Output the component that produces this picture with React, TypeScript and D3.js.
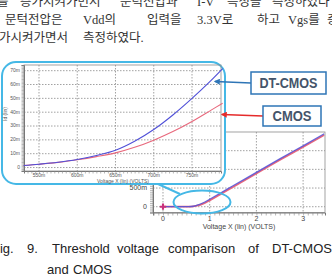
import React, { useRef, useEffect } from 'react';
import * as d3 from 'd3';

// close-up of the turn-on region (gate volts, drain amps)
const zoomVolts = [0.53, 0.55, 0.575, 0.6, 0.625, 0.65, 0.675, 0.7, 0.725, 0.75, 0.775, 0.79];
const zoomDtcmos = [0.0015, 0.0024, 0.0038, 0.0058, 0.0087, 0.0125, 0.019, 0.0275, 0.038, 0.05, 0.063, 0.0715];
const zoomCmos = [0.0015, 0.0024, 0.0037, 0.0056, 0.0079, 0.0106, 0.0146, 0.0198, 0.026, 0.0333, 0.0415, 0.0465];
const zoomXTicks = [0.55, 0.6, 0.65, 0.7, 0.75];
const zoomYTicks = [0, 0.01, 0.02, 0.03, 0.04, 0.05, 0.06, 0.07];

// full sweep
const sweepVolts = [0, 0.3, 0.55, 0.65, 0.75, 0.85, 1.0, 1.25, 1.5, 2.0, 2.5, 3.0, 3.45];
const sweepDtcmos = [0, 0, 0.002, 0.0125, 0.05, 0.1, 0.2, 0.38, 0.56, 0.92, 1.28, 1.63, 1.95];
const sweepCmos = [0, 0, 0.002, 0.0106, 0.033, 0.075, 0.17, 0.35, 0.53, 0.89, 1.25, 1.6, 1.92];
const sweepXTicks = [0, 1, 2, 3];
const sweepYTicks = [0, 0.5, 1, 1.5];

const BLUE = '#5050d8';
const RED = '#e8687c';
const CYAN = '#45b8e6';
const GRID = '#8a8a8a';

const SANS = "'Liberation Sans', Arial, sans-serif";
const KOREAN = "'Liberation Serif', 'Noto Sans CJK KR', serif";

const bodyLines = [
  { y: 6, words: [['를', -3], ['증가시켜가면서', 20], ['문턱전압과', 120], ['I-V', 197], ['특성을', 227], ['측정하였다', 272]] },
  { y: 24, words: [['문턱전압은', 5], ['Vdd의', 83], ['입력을', 147], ['3.3V로', 197], ['하고', 257], ['Vgs를', 288], ['증', 327]] },
  { y: 42, words: [['가시켜가면서', -1], ['측정하였다.', 83]] }
];

const captionLines = [
  { y: 253, words: [['Fig.', -8], ['9.', 27], ['Threshold', 52], ['voltage', 117], ['comparison', 168], ['of', 248], ['DT-CMOS', 272]] },
  { y: 274, words: [['and', 47], ['CMOS', 73]] }
];

const fmt = d3.format('~s');

export default function App() {
  const svgRef = useRef<SVGSVGElement>(null);

  useEffect(() => {
    if (svgRef.current) draw(svgRef.current);
  }, []);

  return (
    <div style={{ position: 'absolute', left: 0, top: 0 }}>
      <svg ref={svgRef} width={332} height={277} style={{ display: 'block', background: '#fff' }} />
    </div>
  );
}

const drawWords = (g: any, lines: any[]) => {
  lines.forEach((line) =>
    line.words.forEach(([w, x]: [string, number]) => {
      g.append('text').attr('x', x).attr('y', line.y).text(w);
    })
  );
};

const plot = (
  svg: any,
  x: d3.ScaleLinear<number, number>,
  y: d3.ScaleLinear<number, number>,
  opt: { xTicks: number[]; yTicks: number[]; xMinor: number[]; yMinor: number[]; tick: number }
) => {
  const [x0, x1] = x.range();
  const [y0, y1] = y.range();
  const g = svg.append('g');

  g.append('g')
    .selectAll('line')
    .data(opt.xTicks)
    .join('line')
    .attr('x1', (d: number) => x(d))
    .attr('x2', (d: number) => x(d))
    .attr('y1', y1)
    .attr('y2', y0)
    .attr('stroke', GRID)
    .attr('stroke-width', 0.8)
    .attr('stroke-dasharray', '1.5,1.5');

  g.append('g')
    .selectAll('line')
    .data(opt.yTicks)
    .join('line')
    .attr('x1', x0)
    .attr('x2', x1)
    .attr('y1', (d: number) => y(d))
    .attr('y2', (d: number) => y(d))
    .attr('stroke', GRID)
    .attr('stroke-width', 0.8)
    .attr('stroke-dasharray', '1.5,1.5');

  g.append('rect')
    .attr('x', x0)
    .attr('y', y1)
    .attr('width', x1 - x0)
    .attr('height', y0 - y1)
    .attr('fill', 'none')
    .attr('stroke', '#8c8c8c')
    .attr('stroke-width', 0.8);

  // ruler style axes
  const left = g
    .append('g')
    .attr('transform', `translate(${x0},0)`)
    .call(d3.axisLeft(y).tickValues(opt.yMinor).tickSize(opt.tick).tickFormat(() => ''));
  const bottom = g
    .append('g')
    .attr('transform', `translate(0,${y0})`)
    .call(d3.axisBottom(x).tickValues(opt.xMinor).tickSize(opt.tick).tickFormat(() => ''));
  [left, bottom].forEach((a) => {
    a.select('.domain').attr('stroke', '#777').attr('stroke-width', 1);
    a.selectAll('.tick line').attr('stroke', '#888').attr('stroke-width', 0.6);
  });
  return g;
};

const draw = (node: SVGSVGElement) => {
  const svg = d3.select(node);
  svg.selectAll('*').remove();

  const body = svg.append('g').attr('font-family', KOREAN).attr('font-size', 12.5).attr('fill', '#333');
  drawWords(body, bodyLines);

  // main chart
  const mx = d3.scaleLinear().domain([-0.214, 3.469]).range([153, 325]);
  const my = d3.scaleLinear().domain([-0.155, 2.0]).range([212.5, 132]);
  const main = plot(svg, mx, my, {
    xTicks: sweepXTicks,
    yTicks: sweepYTicks,
    xMinor: d3.range(-0.2, 3.46, 0.1),
    yMinor: d3.range(-0.15, 2.001, 0.05),
    tick: 3
  });

  const mainLine = (vals: number[]) =>
    d3
      .line<number>()
      .x((_, i) => mx(sweepVolts[i]))
      .y((d) => my(d))
      .curve(d3.curveMonotoneX)(vals);

  main.append('path').attr('d', mainLine(sweepCmos)).attr('fill', 'none').attr('stroke', RED).attr('stroke-width', 1.8);
  main
    .append('path')
    .attr('d', mainLine(sweepDtcmos))
    .attr('fill', 'none')
    .attr('stroke', BLUE)
    .attr('stroke-width', 1.3)
    .attr('stroke-opacity', 0.85);
  main
    .append('path')
    .attr('d', d3.symbol(d3.symbolCross, 22)())
    .attr('transform', `translate(${mx(0)},${my(0)})`)
    .attr('fill', '#c8307c');

  const mLabels = main.append('g').attr('font-family', SANS).attr('font-size', 7).attr('fill', '#444');
  mLabels
    .selectAll('text.y')
    .data(sweepYTicks)
    .join('text')
    .attr('x', 147)
    .attr('y', (d: number) => my(d))
    .attr('text-anchor', 'end')
    .attr('dominant-baseline', 'middle')
    .text((d: number) => fmt(d));
  mLabels
    .selectAll('text.x')
    .data(sweepXTicks)
    .join('text')
    .attr('x', (d: number) => mx(d))
    .attr('y', 221)
    .attr('text-anchor', 'middle')
    .text((d: number) => fmt(d));
  mLabels.append('text').attr('x', 239).attr('y', 229).attr('text-anchor', 'middle').text('Voltage X (lin) (VOLTS)');

  // inset callout
  svg
    .append('rect')
    .attr('x', 2)
    .attr('y', 62)
    .attr('width', 223)
    .attr('height', 122)
    .attr('rx', 14)
    .attr('fill', '#fff')
    .attr('stroke', CYAN)
    .attr('stroke-width', 2);

  const ix = d3.scaleLinear().domain([0.5304, 0.7879]).range([24, 221]);
  const iy = d3.scaleLinear().domain([-0.0025, 0.0741]).range([171, 65]);
  const inset = plot(svg, ix, iy, {
    xTicks: zoomXTicks,
    yTicks: zoomYTicks,
    xMinor: d3.range(0.535, 0.788, 0.005),
    yMinor: d3.range(-0.002, 0.0741, 0.001),
    tick: 2.5
  });

  const insetLine = (vals: number[]) =>
    d3
      .line<number>()
      .x((_, i) => ix(zoomVolts[i]))
      .y((d) => iy(d))
      .curve(d3.curveCatmullRom)(vals);

  inset.append('path').attr('d', insetLine(zoomCmos)).attr('fill', 'none').attr('stroke', RED).attr('stroke-width', 1.1);
  inset.append('path').attr('d', insetLine(zoomDtcmos)).attr('fill', 'none').attr('stroke', BLUE).attr('stroke-width', 1.1);

  const iLabels = inset.append('g').attr('font-family', SANS).attr('font-size', 5).attr('fill', '#555');
  iLabels
    .selectAll('text.y')
    .data(zoomYTicks)
    .join('text')
    .attr('x', 20)
    .attr('y', (d: number) => iy(d))
    .attr('text-anchor', 'end')
    .attr('dominant-baseline', 'middle')
    .text((d: number) => fmt(d));
  iLabels
    .selectAll('text.x')
    .data(zoomXTicks)
    .join('text')
    .attr('x', (d: number) => ix(d))
    .attr('y', 177)
    .attr('text-anchor', 'middle')
    .text((d: number) => fmt(d));
  iLabels.append('text').attr('x', 123).attr('y', 182.5).attr('text-anchor', 'middle').text('Voltage X (lin) (VOLTS)');
  iLabels
    .append('text')
    .attr('transform', 'translate(7,114) rotate(-90)')
    .attr('text-anchor', 'middle')
    .text('Id (lin)');

  // highlight of the turn-on knee
  svg
    .append('ellipse')
    .attr('cx', 202)
    .attr('cy', 202)
    .attr('rx', 28.5)
    .attr('ry', 11.5)
    .attr('fill', 'none')
    .attr('stroke', CYAN)
    .attr('stroke-width', 2);
  svg
    .append('line')
    .attr('x1', 158)
    .attr('y1', 184)
    .attr('x2', 180)
    .attr('y2', 194)
    .attr('stroke', CYAN)
    .attr('stroke-width', 2);

  // series tags
  const defs = svg.append('defs');
  [['blueHead', '#2e75b6'], ['redHead', '#e52b2b']].forEach(([id, c]) => {
    defs
      .append('marker')
      .attr('id', id)
      .attr('viewBox', '0 0 10 10')
      .attr('refX', 8)
      .attr('refY', 5)
      .attr('markerWidth', 4)
      .attr('markerHeight', 4)
      .attr('orient', 'auto')
      .append('path')
      .attr('d', 'M0,0L10,5L0,10Z')
      .attr('fill', c);
  });

  const tags = [
    { name: 'DT-CMOS', box: [251, 72, 75, 22], len: 58, color: '#2e75b6', head: 'blueHead', from: [251, 83], to: [215, 81.5] },
    { name: 'CMOS', box: [263, 106, 58, 20], len: 39, color: '#e52b2b', head: 'redHead', from: [263, 116], to: [222, 114.5] }
  ];
  tags.forEach((t) => {
    svg
      .append('line')
      .attr('x1', t.from[0])
      .attr('y1', t.from[1])
      .attr('x2', t.to[0])
      .attr('y2', t.to[1])
      .attr('stroke', t.color)
      .attr('stroke-width', 1.5)
      .attr('marker-end', `url(#${t.head})`);
    svg
      .append('rect')
      .attr('x', t.box[0])
      .attr('y', t.box[1])
      .attr('width', t.box[2])
      .attr('height', t.box[3])
      .attr('fill', '#fff')
      .attr('stroke', '#2e75b6')
      .attr('stroke-width', 1.5);
    svg
      .append('text')
      .attr('x', t.box[0] + t.box[2] / 2 - t.len / 2)
      .attr('y', t.box[1] + t.box[3] / 2 + 5)
      .attr('textLength', t.len)
      .attr('lengthAdjust', 'spacingAndGlyphs')
      .attr('font-family', SANS)
      .attr('font-weight', 'bold')
      .attr('font-size', 14)
      .attr('fill', '#44546a')
      .text(t.name);
  });

  const caption = svg.append('g').attr('font-family', SANS).attr('font-size', 13).attr('fill', '#222');
  drawWords(caption, captionLines);
};
